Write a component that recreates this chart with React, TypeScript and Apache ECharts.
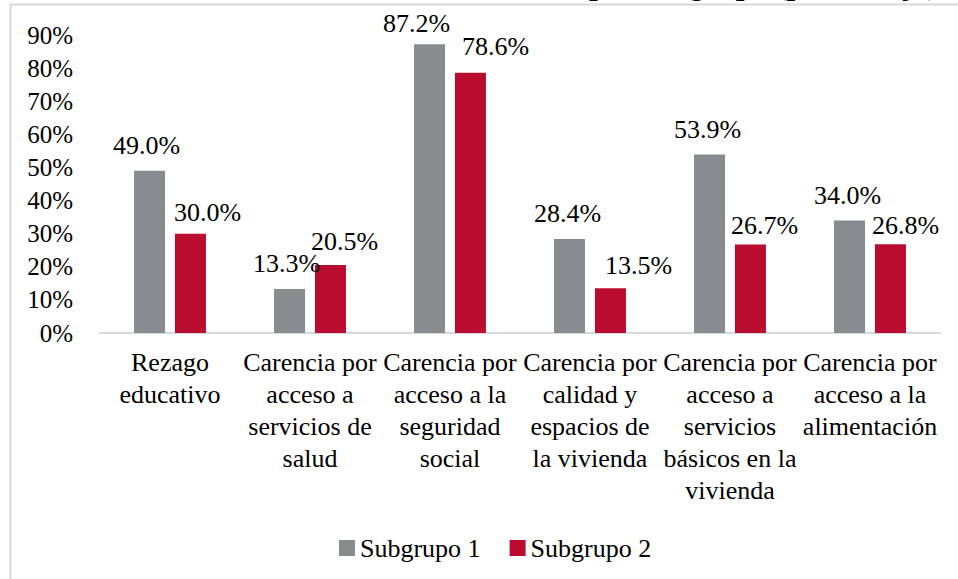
import React, { useEffect, useRef } from "react";
import * as echarts from "echarts";

const categories: string[] = [
  "Rezago\neducativo",
  "Carencia por\nacceso a\nservicios de\nsalud",
  "Carencia por\nacceso a la\nseguridad\nsocial",
  "Carencia por\ncalidad y\nespacios de\nla vivienda",
  "Carencia por\nacceso a\nservicios\nbásicos en la\nvivienda",
  "Carencia por\nacceso a la\nalimentación",
];
const seriesNames: string[] = ["Subgrupo 1", "Subgrupo 2"];
const subgrupo1: number[] = [49.0, 13.3, 87.2, 28.4, 53.9, 34.0];
const subgrupo2: number[] = [30.0, 20.5, 78.6, 13.5, 26.7, 26.8];
const yTicks = { min: 0, max: 90, interval: 10 };
const titleText = "por subgrupo (porcentaje)";

const FONT = "Liberation Serif";

export default function App() {
  const ref = useRef<HTMLDivElement>(null);
  useEffect(() => {
    if (!ref.current) return;
    const chart = echarts.init(ref.current, null, { renderer: "svg" });
    const off1 = [[-3, 0], [-3, 0], [-13, 4], [-2, 0], [-2, 0], [-2, 0]];
    const off2 = [[17, 4], [14, 1], [25, -1], [28, 2], [14, 6], [15, 6]];
    const mk = (vals: number[], offs: number[][]) =>
      vals.map((v, i) => ({ value: v, label: { offset: offs[i] } }));
    const labelStyle = {
      show: true,
      position: "top" as const,
      distance: 12,
      fontFamily: FONT,
      fontSize: 26,
      color: "#000",
      formatter: (p: any) => p.value.toFixed(1) + "%",
    };
    chart.setOption({
      animation: false,
      backgroundColor: "#fff",
      textStyle: { fontFamily: FONT },
      graphic: [
        {
          type: "rect",
          shape: { x: 10.5, y: 4.5, width: 1200, height: 1200 },
          style: { fill: "none", stroke: "#d9d9d9", lineWidth: 2 },
          silent: true,
        },
        {
          type: "text",
          x: 589,
          y: -16.5,
          style: {
            text: titleText,
            font: "bold 31px Liberation Serif",
            fill: "#000",
            verticalAlign: "middle",
            align: "left",
          },
          silent: true,
        },
      ],
      grid: { left: 100, right: 18, top: 35, bottom: 246, containLabel: false },
      legend: {
        left: 334,
        top: 530,
        itemWidth: 16,
        itemHeight: 16,
        itemGap: 29,
        icon: "rect",
        textStyle: { fontFamily: FONT, fontSize: 26, color: "#000" },
        data: seriesNames,
      },
      xAxis: {
        type: "category",
        data: categories,
        axisLine: { lineStyle: { color: "#d9d9d9", width: 2 } },
        axisTick: { show: false },
        axisLabel: {
          interval: 0,
          margin: 13,
          fontFamily: FONT,
          fontSize: 26,
          lineHeight: 32,
          color: "#000",
          align: "center",
        },
      },
      yAxis: {
        type: "value",
        min: yTicks.min,
        max: yTicks.max,
        interval: yTicks.interval,
        axisLine: { show: false },
        axisTick: { show: false },
        splitLine: { show: false },
        axisLabel: {
          formatter: "{value}%",
          margin: 27,
          fontFamily: FONT,
          fontSize: 25,
          color: "#000",
        },
      },
      series: [
        {
          name: seriesNames[0],
          type: "bar",
          data: mk(subgrupo1, off1),
          barWidth: 31,
          barGap: "32%",
          itemStyle: { color: "#898c8e" },
          label: labelStyle,
        },
        {
          name: seriesNames[1],
          type: "bar",
          data: mk(subgrupo2, off2),
          barWidth: 31,
          barGap: "32%",
          itemStyle: { color: "#ba0c2f" },
          label: labelStyle,
        },
      ],
    });
    return () => chart.dispose();
  }, []);
  return (
    <div
      ref={ref}
      style={{ position: "absolute", left: 0, top: 0, width: 958, height: 579 }}
    />
  );
}
